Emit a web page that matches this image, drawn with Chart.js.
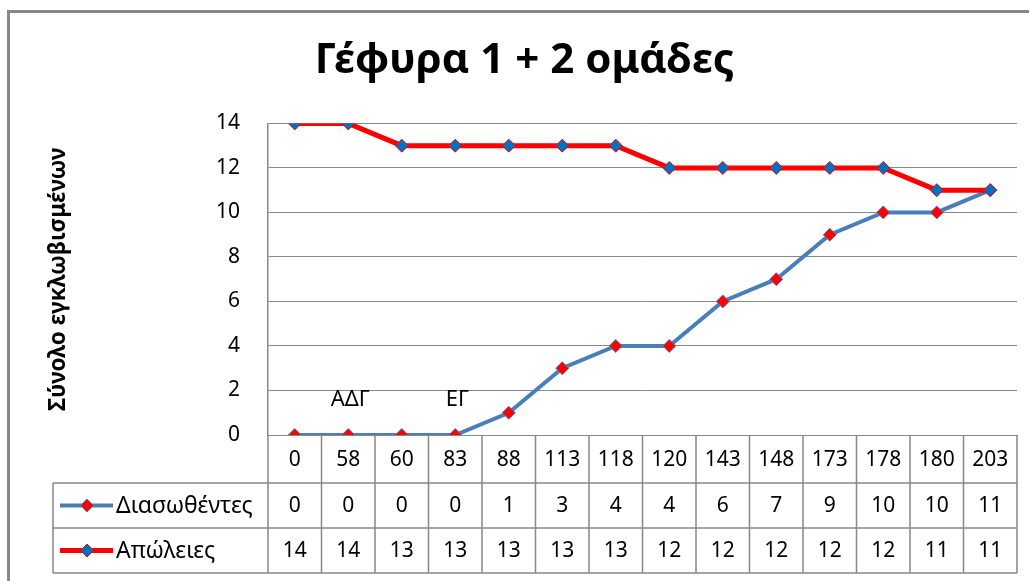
<!DOCTYPE html>
<html><head><meta charset="utf-8">
<script src="https://cdn.jsdelivr.net/npm/chart.js@4.4.1/dist/chart.umd.min.js"></script>
<style>html,body{margin:0;padding:0;background:#fff;overflow:hidden}canvas{display:block}</style>
</head><body>
<canvas id="c" width="1029" height="581"></canvas>
<script>
const categories = ["0","58","60","83","88","113","118","120","143","148","173","178","180","203"];
const rescued = [0,0,0,0,1,3,4,4,6,7,9,10,10,11];
const losses = [14,14,13,13,13,13,13,12,12,12,12,12,11,11];
const yTicks = [0,2,4,6,8,10,12,14];
const seriesNames = ["Διασωθέντες","Απώλειες"];
const annotationTexts = ["ΑΔΓ","ΕΓ"];
const annotationAt = ["58","83"];
const chartTitle = "Γέφυρα 1 + 2 ομάδες";
const yTitle = "Σύνολο εγκλωβισμένων";

const FONT = "'Noto Sans', 'Open Sans', sans-serif";
const GRID = '#888888';
const BLUE_LINE = '#4a7ebb';
const RED_LINE = '#ff0000';
const BLUE_MARK = '#0070c0';

const framePlugin = {
  id: 'frame',
  beforeDraw(chart) {
    const ctx = chart.ctx;
    ctx.save();
    ctx.fillStyle = '#fff';
    ctx.fillRect(0, 0, chart.width, chart.height);
    ctx.strokeStyle = GRID;
    ctx.lineWidth = 3;
    ctx.beginPath();
    ctx.moveTo(8.5, chart.height + 5);
    ctx.lineTo(8.5, 11.5);
    ctx.lineTo(chart.width + 5, 11.5);
    ctx.stroke();
    ctx.restore();
  }
};

const tablePlugin = {
  id: 'dataTable',
  afterDraw(chart) {
    const ctx = chart.ctx;
    const ca = chart.chartArea;
    const x = chart.scales.x, y = chart.scales.y;
    const step = x.getPixelForValue(1) - x.getPixelForValue(0);
    const left = x.getPixelForValue(0) - step / 2;
    const n = categories.length;
    const right = left + step * n;
    const top = ca.bottom;
    const r1 = top + 48, r2 = r1 + 45, r3 = r2 + 45;
    const legLeft = 53;
    ctx.save();
    ctx.strokeStyle = GRID;
    ctx.lineWidth = 1.5;
    ctx.beginPath();
    [r1, r2, r3].forEach(yy => { ctx.moveTo(legLeft, yy); ctx.lineTo(right, yy); });
    ctx.moveTo(legLeft, r1); ctx.lineTo(legLeft, r3);
    for (let i = 0; i <= n; i++) {
      const xx = left + i * step;
      ctx.moveTo(xx, top); ctx.lineTo(xx, r3);
    }
    ctx.stroke();

    ctx.fillStyle = '#000';
    ctx.font = "21px " + FONT;
    ctx.textAlign = 'center';
    ctx.textBaseline = 'middle';
    categories.forEach((c, i) => ctx.fillText(c, x.getPixelForValue(i), (top + r1) / 2 + 1));
    const rows = [rescued, losses];
    const rowMid = [(r1 + r2) / 2 + 1, (r2 + r3) / 2 + 1];
    rows.forEach((arr, k) => arr.forEach((v, i) => ctx.fillText(String(v), x.getPixelForValue(i), rowMid[k])));

    // legend keys
    ctx.font = "23px " + FONT;
    chart.data.datasets.forEach((ds, k) => {
      const yy = rowMid[k] - 1;
      ctx.strokeStyle = ds.borderColor;
      ctx.lineWidth = ds.borderWidth;
      ctx.beginPath();
      ctx.moveTo(legLeft + 7, yy); ctx.lineTo(legLeft + 60, yy); ctx.stroke();
      ctx.fillStyle = ds.pointBackgroundColor;
      ctx.strokeStyle = ds.pointBorderColor;
      ctx.lineWidth = 1;
      Chart.helpers.drawPoint(ctx, {pointStyle: 'rectRot', radius: 6.5, borderWidth: 1}, legLeft + 34, yy);
      ctx.fillStyle = '#000';
      ctx.textAlign = 'left';
      ctx.fillText(ds.label, legLeft + 63, yy + 1);
    });

    // annotations
    ctx.font = "22px " + FONT;
    ctx.textAlign = 'center';
    annotationTexts.forEach((t, k) => {
      const i = categories.indexOf(annotationAt[k]);
      ctx.fillText(t, x.getPixelForValue(i) + 2, y.getPixelForValue(rescued[i]) - 35);
    });
    ctx.restore();
  }
};

new Chart(document.getElementById('c'), {
  type: 'line',
  data: {
    labels: categories,
    datasets: [
      {
        label: seriesNames[0], data: rescued, order: 2,
        borderColor: BLUE_LINE, borderWidth: 4,
        pointStyle: 'rectRot', pointRadius: 6.5, pointHoverRadius: 6.5,
        pointBackgroundColor: RED_LINE, pointBorderColor: BLUE_LINE, pointBorderWidth: 1,
        tension: 0, fill: false
      },
      {
        label: seriesNames[1], data: losses, order: 1,
        borderColor: RED_LINE, borderWidth: 5,
        pointStyle: 'rectRot', pointRadius: 6.5, pointHoverRadius: 6.5,
        pointBackgroundColor: BLUE_MARK, pointBorderColor: RED_LINE, pointBorderWidth: 1,
        tension: 0, fill: false
      }
    ]
  },
  options: {
    responsive: false,
    animation: false,
    devicePixelRatio: 1,
    layout: { padding: { left: 32, right: 12, top: 0, bottom: 0 } },
    plugins: {
      legend: { display: false },
      tooltip: { enabled: false },
      title: {
        display: true, text: chartTitle, color: '#000',
        font: { family: FONT, size: 42, weight: 'bold' },
        padding: { top: 36, bottom: 37 }
      }
    },
    scales: {
      x: {
        type: 'category',
        offset: true,
        grid: { display: false, drawTicks: false },
        border: { display: true, color: GRID, width: 1 },
        ticks: { display: false },
        afterFit(s) { s.height = 146; }
      },
      y: {
        min: 0, max: 14,
        afterBuildTicks(s) { s.ticks = yTicks.map(v => ({ value: v })); },
        grid: { color: GRID, lineWidth: 1, drawTicks: false },
        border: { display: true, color: GRID, width: 1.5 },
        ticks: { color: '#000', padding: 28, font: { family: FONT, size: 21 } },
        title: {
          display: true, text: yTitle, color: '#000',
          font: { family: FONT, size: 22.5, weight: 'bold' },
          padding: { top: 13, bottom: 0 }
        },
        afterFit(s) { s.width = 236; }
      }
    }
  },
  plugins: [framePlugin, tablePlugin]
});
</script>
</body></html>
